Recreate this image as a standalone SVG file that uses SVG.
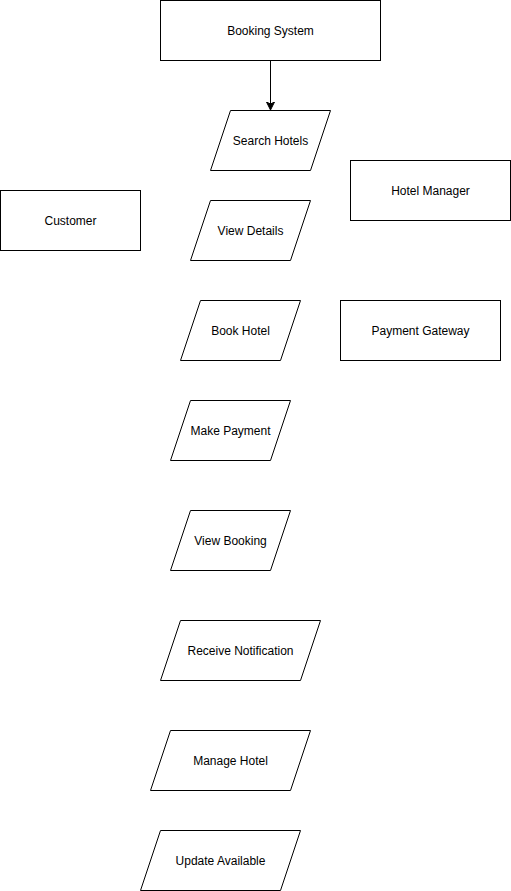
<svg xmlns="http://www.w3.org/2000/svg" width="511" height="891" viewBox="0 0 511 891">
<style>
.s{fill:#fff;stroke:#000;stroke-width:1}
.t{font-family:"Liberation Sans",Arial,sans-serif;font-size:12px;fill:#000;text-anchor:middle;dominant-baseline:central}
.c{fill:none;stroke:#000;stroke-width:1}
</style>
<defs>
<marker id="a" markerWidth="10" markerHeight="10" refX="7" refY="4" orient="auto" markerUnits="userSpaceOnUse">
<path d="M0,0 L8,4 L0,8 L2,4 Z" fill="#000" stroke="#000" stroke-width="1"/>
</marker>
</defs>
<rect width="511" height="891" fill="#fff"/>
<g id="connectors">
<path class="c" d="M270.5,60.5 L270.5,109" marker-end="url(#a)"/>
</g>
<g id="booking-system"><rect class="s" x="160.5" y="0.5" width="220" height="60"/><text class="t" x="270.5" y="30.5">Booking System</text></g>
<g id="search-hotels"><path class="s" d="M230.5,110.5 L330.5,110.5 L310.5,170.5 L210.5,170.5 Z"/><text class="t" x="270.5" y="140.5">Search Hotels</text></g>
<g id="hotel-manager"><rect class="s" x="350.5" y="160.5" width="160" height="60"/><text class="t" x="430.5" y="190.5">Hotel Manager</text></g>
<g id="customer"><rect class="s" x="0.5" y="190.5" width="140" height="60"/><text class="t" x="70.5" y="220.5">Customer</text></g>
<g id="view-details"><path class="s" d="M210.5,200.5 L310.5,200.5 L290.5,260.5 L190.5,260.5 Z"/><text class="t" x="250.5" y="230.5">View Details</text></g>
<g id="book-hotel"><path class="s" d="M200.5,300.5 L300.5,300.5 L280.5,360.5 L180.5,360.5 Z"/><text class="t" x="240.5" y="330.5">Book Hotel</text></g>
<g id="payment-gateway"><rect class="s" x="340.5" y="300.5" width="160" height="60"/><text class="t" x="420.5" y="330.5">Payment Gateway</text></g>
<g id="make-payment"><path class="s" d="M190.5,400.5 L290.5,400.5 L270.5,460.5 L170.5,460.5 Z"/><text class="t" x="230.5" y="430.5">Make Payment</text></g>
<g id="view-booking"><path class="s" d="M190.5,510.5 L290.5,510.5 L270.5,570.5 L170.5,570.5 Z"/><text class="t" x="230.5" y="540.5">View Booking</text></g>
<g id="receive-notification"><path class="s" d="M180.5,620.5 L320.5,620.5 L300.5,680.5 L160.5,680.5 Z"/><text class="t" x="240.5" y="650.5">Receive Notification</text></g>
<g id="manage-hotel"><path class="s" d="M170.5,730.5 L310.5,730.5 L290.5,790.5 L150.5,790.5 Z"/><text class="t" x="230.5" y="760.5">Manage Hotel</text></g>
<g id="update-available"><path class="s" d="M160.5,830.5 L300.5,830.5 L280.5,890.5 L140.5,890.5 Z"/><text class="t" x="220.5" y="860.5">Update Available</text></g>
</svg>
